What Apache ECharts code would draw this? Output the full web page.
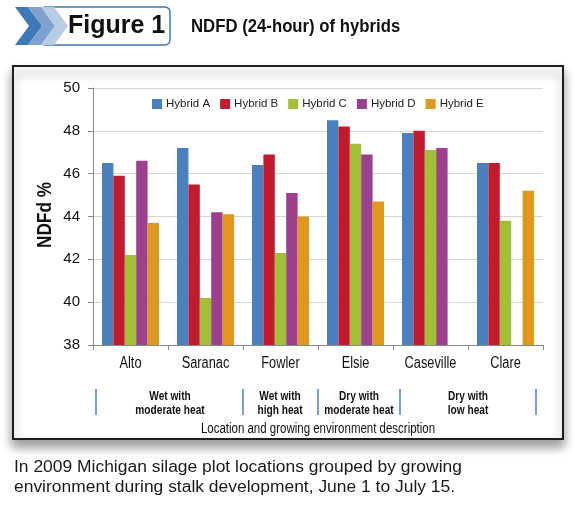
<!DOCTYPE html>
<html>
<head>
<meta charset="utf-8">
<script src="https://cdn.jsdelivr.net/npm/echarts@6/dist/echarts.min.js"></script>
<style>
  html, body { margin: 0; padding: 0; background: #fff; }
  #chart { width: 575px; height: 510px; }
</style>
</head>
<body>
<div id="chart"></div>
<script>
const locations = ['Alto', 'Saranac', 'Fowler', 'Elsie', 'Caseville', 'Clare']
const hybridNames = ['Hybrid A', 'Hybrid B', 'Hybrid C', 'Hybrid D', 'Hybrid E']
const hybridA = [46.5, 47.2, 46.4, 48.5, 47.9, 46.5]
const hybridB = [45.9, 45.5, 46.9, 48.2, 48.0, 46.5]
const hybridC = [42.2, 40.2, 42.3, 47.4, 47.1, 43.8]
const hybridD = [46.6, 44.2, 45.1, 46.9, 47.2, null]
const hybridE = [43.7, 44.1, 44.0, 44.7, null, 45.2]
const yTicks = [38, 40, 42, 44, 46, 48, 50]
const groupLabels = ['Wet with\nmoderate heat', 'Wet with\nhigh heat', 'Dry with\nmoderate heat', 'Dry with\nlow heat']

const palette = ['#4A80BE', '#C21B2D', '#A2C037', '#9C3F8D', '#E0971E']
const sans = '"Liberation Sans", Arial, sans-serif'

// layout (px) for the annotation row under the axis
const sepX = [96, 243, 318, 400, 536]
const groupCx = [170, 280, 359, 468]

const chart = echarts.init(document.getElementById('chart'))

const values = [hybridA, hybridB, hybridC, hybridD, hybridE]

const chevron = (x0, color) => ({
  type: 'polygon',
  z: 5,
  shape: { points: [[x0, 7], [x0 + 13, 7], [x0 + 27, 26], [x0 + 13, 45], [x0, 45], [x0 + 14, 26]] },
  style: { fill: color }
})

const graphics = [
  {
    type: 'rect',
    z: -1,
    shape: { x: 13, y: 66, width: 550, height: 373 },
    style: { fill: '#fff', stroke: '#1e1e1e', lineWidth: 2, shadowBlur: 10, shadowOffsetY: 7, shadowColor: 'rgba(0,0,0,0.4)' }
  },
  {
    type: 'rect',
    z: 4,
    shape: { x: 40, y: 7, width: 130, height: 38, r: 5 },
    style: { fill: '#fff', stroke: '#3D79B7', lineWidth: 1.5 }
  },
  chevron(15, '#3D79B7'),
  chevron(28, '#7EA2CF'),
  chevron(41, '#B8CCE6'),
  {
    type: 'text', z: 6, x: 68, y: 26,
    style: { text: 'Figure 1', font: 'bold 25px ' + sans, fill: '#111', verticalAlign: 'middle' }
  },
  {
    type: 'text', x: 191, y: 27, scaleX: 0.93,
    style: { text: 'NDFD (24-hour) of hybrids', font: 'bold 18px ' + sans, fill: '#111', verticalAlign: 'middle' }
  },
  {
    type: 'text', x: 45.5, y: 215, rotation: Math.PI / 2, scaleX: 0.82,
    style: { text: 'NDFd %', font: 'bold 21px ' + sans, fill: '#111', align: 'center', verticalAlign: 'middle' }
  },
  {
    type: 'text', x: 318, y: 429, scaleX: 0.82,
    style: { text: 'Location and growing environment description', font: '14px ' + sans, fill: '#111', align: 'center', verticalAlign: 'middle' }
  },
  {
    type: 'text', x: 14, y: 478, scaleX: 1.09,
    style: {
      text: 'In 2009 Michigan silage plot locations grouped by growing\nenvironment during stalk development, June 1 to July 15.',
      font: '16px ' + sans, fill: '#1a1a1a', verticalAlign: 'middle', lineHeight: 20
    }
  }
]

sepX.forEach((x) => {
  graphics.push({
    type: 'line',
    shape: { x1: x, y1: 389, x2: x, y2: 415 },
    style: { stroke: '#4A82C0', lineWidth: 1.5 }
  })
})

groupLabels.forEach((label, i) => {
  graphics.push({
    type: 'text', x: groupCx[i], y: 403.5, scaleX: 0.78,
    style: { text: label, font: 'bold 13px ' + sans, fill: '#111', align: 'center', verticalAlign: 'middle', lineHeight: 14.5 }
  })
})

chart.setOption({
  backgroundColor: '#fff',
  animation: false,
  color: palette,
  graphic: graphics,
  grid: { left: 93, right: 32, top: 88, bottom: 165 },
  legend: {
    top: 98,
    left: 152,
    padding: 0,
    icon: 'rect',
    itemWidth: 10,
    itemHeight: 10,
    itemGap: 10,
    textStyle: { fontFamily: sans, fontSize: 11.5, color: '#222', padding: [0, 0, 0, -1] },
    data: hybridNames
  },
  xAxis: {
    type: 'category',
    data: locations,
    axisLine: { lineStyle: { color: '#888' } },
    axisTick: { show: true, length: 5, lineStyle: { color: '#888' } },
    axisLabel: { show: false }
  },
  yAxis: {
    type: 'value',
    min: yTicks[0],
    max: yTicks[yTicks.length - 1],
    interval: 2,
    axisLine: { show: true, lineStyle: { color: '#888' } },
    axisTick: { show: true, length: 5, lineStyle: { color: '#888' } },
    splitLine: { lineStyle: { color: '#D4D4D4' } },
    axisLabel: { fontFamily: sans, fontSize: 15, color: '#111', margin: 13 }
  },
  series: hybridNames.map((name, i) => ({
    name,
    type: 'bar',
    data: values[i],
    barGap: '0%',
    barCategoryGap: '24%',
    itemStyle: { color: palette[i] }
  }))
})

// category labels in a condensed look, placed from the x axis scale
const labelY = chart.convertToPixel({ yAxisIndex: 0 }, yTicks[0]) + 18.5
locations.forEach((loc) => {
  graphics.push({
    type: 'text',
    x: chart.convertToPixel({ xAxisIndex: 0 }, loc),
    y: labelY,
    scaleX: 0.8,
    style: { text: loc, font: '16px ' + sans, fill: '#111', align: 'center', verticalAlign: 'middle' }
  })
})
chart.setOption({ graphic: graphics })
</script>
</body>
</html>
